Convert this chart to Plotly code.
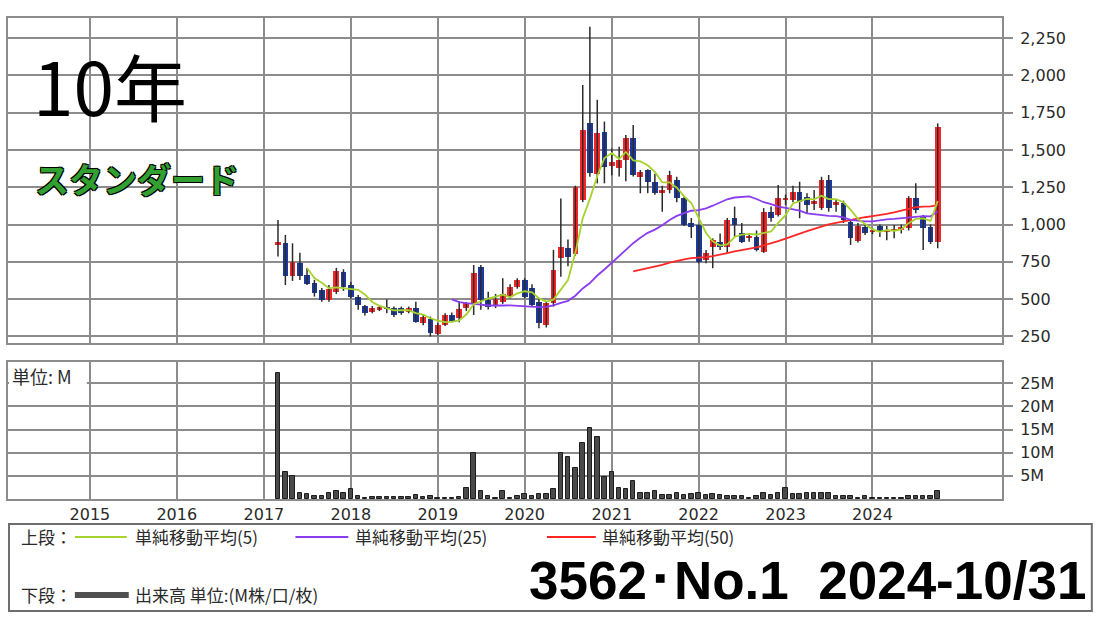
import subprocess
import pandas as pd
import plotly.graph_objects as go

# ---------------- data (monthly, Mar 2017 - Oct 2024) ----------------
months = pd.date_range("2017-03-01", "2024-10-01", freq="MS")

open_ = [865, 878, 655, 744, 662, 606, 562, 497, 550, 684,
         595, 517, 454, 416, 428, 440, 439, 439, 416, 439, 338, 365,
         267, 327, 394, 372, 439, 472, 718, 495, 454, 483, 517, 584,
         629, 573, 483, 327, 472, 774, 841, 800, 1165, 1678, 1340, 1622,
         1390, 1377, 1432, 1579, 1321, 1365, 1287, 1209, 1231, 1298, 1176, 1008,
         997, 763, 852, 885, 852, 1042, 941, 910, 919, 818, 1086, 1064,
         1165, 1165, 1220, 1187, 1140, 1109, 1298, 1131, 1142, 1019, 892, 986,
         955, 990, 950, 960, 965, 975, 1176, 1053, 986, 885]
high = [1030, 930, 874, 810, 709, 629, 575, 595, 709, 700,
        615, 528, 460, 454, 455, 500, 450, 450, 450, 483, 395, 383,
        340, 405, 410, 485, 480, 729, 729, 550, 535, 640, 600, 640,
        640, 600, 506, 483, 830, 1175, 900, 1260, 1935, 2326, 1836, 1690,
        1510, 1521, 1600, 1667, 1365, 1370, 1340, 1260, 1360, 1320, 1190, 1044,
        1000, 830, 907, 940, 1044, 1120, 1010, 935, 960, 1110, 1120, 1265,
        1200, 1260, 1287, 1210, 1231, 1320, 1332, 1170, 1160, 1030, 1010, 1000,
        975, 1000, 990, 997, 1000, 1190, 1276, 1064, 1000, 1678]
low = [785, 595, 622, 629, 595, 517, 483, 483, 535, 555,
       505, 428, 390, 405, 420, 405, 380, 395, 405, 342, 325, 249,
       257, 320, 350, 345, 420, 394, 428, 430, 440, 468, 505, 570,
       505, 450, 305, 310, 450, 650, 720, 790, 1150, 1320, 1276, 1276,
       1330, 1321, 1290, 1321, 1209, 1210, 1200, 1086, 1209, 1150, 990, 910,
       740, 740, 707, 830, 810, 919, 876, 885, 820, 810, 1019, 1053,
       1130, 1150, 1042, 1075, 1098, 1098, 1086, 1086, 1010, 863, 880, 930,
       935, 917, 895, 908, 940, 960, 1075, 830, 870, 841]
close = [880, 655, 751, 655, 602, 543, 495, 565, 691, 580,
         517, 461, 407, 439, 450, 435, 394, 410, 443, 349, 383, 275,
         327, 394, 356, 432, 474, 673, 495, 446, 499, 535, 584, 629,
         517, 461, 338, 472, 696, 852, 781, 1250, 1633, 1343, 1611, 1388,
         1420, 1432, 1579, 1332, 1354, 1287, 1209, 1231, 1332, 1176, 997, 986,
         751, 807, 896, 852, 1030, 997, 885, 923, 830, 1086, 1042, 1176,
         1180, 1220, 1153, 1131, 1160, 1298, 1109, 1153, 1030, 908, 990, 941,
         965, 955, 960, 970, 985, 1176, 1098, 975, 885, 1656]
volume_m = [27.3, 5.9, 5.0, 1.4, 1.1, 0.7, 0.7, 1.4, 1.7, 1.4,
            2.2, 0.6, 0.3, 0.5, 0.5, 0.5, 0.5, 0.5, 0.5, 0.9, 0.4, 0.6,
            0.2, 0.2, 0.2, 0.5, 2.4, 9.9, 1.7, 0.7, 0.3, 1.7, 0.3, 0.7,
            1.0, 0.7, 1.0, 1.0, 2.1, 9.9, 9.1, 6.8, 12.0, 15.4, 13.3, 4.7,
            5.8, 2.4, 2.1, 3.9, 1.4, 1.4, 1.7, 0.9, 0.9, 1.4, 0.9, 1.0,
            1.4, 0.9, 1.0, 0.9, 0.6, 0.6, 0.6, 0.3, 0.6, 1.4, 0.9, 1.4,
            2.4, 1.0, 1.0, 1.4, 1.4, 1.4, 1.4, 0.6, 0.6, 0.6, 0.3, 0.6,
            0.3, 0.3, 0.3, 0.3, 0.3, 0.6, 0.6, 0.6, 0.6, 1.7]

year_ticks = [f"{y}-01-01" for y in range(2015, 2025)]
year_labels = [str(y) for y in range(2015, 2025)]
price_ticks = [250, 500, 750, 1000, 1250, 1500, 1750, 2000, 2250]
vol_ticks = [5, 10, 15, 20, 25]
vol_labels = ["5M", "10M", "15M", "20M", "25M"]

assert len(open_) == len(high) == len(low) == len(close) == len(volume_m) == len(months)

# ---------------- pick a narrow bold font if one exists ----------------
try:
    fams = subprocess.run(["fc-list", ":", "family"], capture_output=True, text=True).stdout
except Exception:
    fams = ""
if "Liberation Sans Narrow" in fams:
    BIG_FAMILY, BIG_SIZE, GAP = "Liberation Sans Narrow", 62, "\u00a0\u00a0"
else:
    BIG_FAMILY, BIG_SIZE, GAP = "Liberation Sans", 53, "\u00a0\u00a0"

# ---------------- layout helpers ----------------
W, H = 1100, 618
ML, MR, MT, MB = 6, 98, 18, 119
PW = W - ML - MR
PH = H - MT - MB


def px(x):
    return (x - ML) / PW


def py(y):
    return (H - MB - y) / PH


closes = pd.Series(close, index=months)
sma5 = closes.rolling(5).mean()
sma25 = closes.rolling(25).mean()
sma50 = closes.rolling(50).mean()

GRID = "#8c8c8c"
TXT = "#2a2a2a"
RED = "#f52628"
BLUE = "#1c3a9e"
C5, C25, C50 = "#a6d22e", "#8a3cf0", "#ff2626"

fig = go.Figure()

# wicks
wx, wy = [], []
for d, h, l in zip(months, high, low):
    wx += [d, d, None]
    wy += [l, h, None]
fig.add_trace(go.Scatter(x=wx, y=wy, mode="lines", line=dict(color="#2b2b2b", width=1.5),
                         xaxis="x2", yaxis="y2", hoverinfo="skip", showlegend=False))

# bodies
base = [min(o, c) for o, c in zip(open_, close)]
body = [max(abs(c - o), 6) for o, c in zip(open_, close)]
cols = [RED if c >= o else BLUE for o, c in zip(open_, close)]
fig.add_trace(go.Bar(x=months, y=body, base=base, width=24 * 86400000,
                     marker=dict(color=cols, line=dict(width=0)),
                     xaxis="x2", yaxis="y2", showlegend=False))

# moving averages
for s, c in [(sma50, C50), (sma25, C25), (sma5, C5)]:
    fig.add_trace(go.Scatter(x=months, y=s, mode="lines", line=dict(color=c, width=1.8),
                             xaxis="x2", yaxis="y2", showlegend=False, connectgaps=False))

# volume
fig.add_trace(go.Bar(x=months, y=volume_m, width=19 * 86400000,
                     marker=dict(color="#4a4a4a", line=dict(color="#1c1c1c", width=1)),
                     xaxis="x", yaxis="y", showlegend=False))

axis_font = dict(family="DejaVu Sans", size=16, color=TXT)
common_x = dict(type="date", range=["2014-01-22", "2025-06-28"], tickvals=year_ticks,
                ticktext=year_labels, showgrid=True, gridcolor=GRID, gridwidth=2,
                showline=True, linecolor=GRID, linewidth=2, mirror=True, ticks="",
                zeroline=False)
common_y = dict(side="right", showgrid=True, gridcolor=GRID, gridwidth=2, showline=True,
                linecolor=GRID, linewidth=2, mirror=True, ticks="outside", ticklen=9,
                tickcolor=GRID, tickwidth=2, zeroline=False, tickfont=axis_font,
                ticklabelstandoff=4)

p_bot = py(343)
v_top = py(362)

fig.update_layout(
    width=W, height=H,
    margin=dict(l=ML, r=MR, t=MT, b=MB),
    paper_bgcolor="white", plot_bgcolor="white",
    barmode="overlay", bargap=0,
    xaxis=dict(domain=[0, 1], anchor="y", tickfont=axis_font, showticklabels=True, **common_x),
    xaxis2=dict(domain=[0, 1], anchor="y2", matches="x", showticklabels=False, **common_x),
    yaxis=dict(domain=[0, v_top], anchor="x", range=[0, 29.6], tickvals=vol_ticks,
               ticktext=vol_labels, **common_y),
    yaxis2=dict(domain=[p_bot, 1], anchor="x2", range=[206, 2384], tickvals=price_ticks,
                tickformat=",", **common_y),
)

shapes = []
ann = []

# big overlay texts
ann.append(dict(text="10年", x=px(29), y=py(84), xref="paper", yref="paper",
                xanchor="left", yanchor="middle", showarrow=False,
                font=dict(family="Noto Sans CJK JP", size=73, color="#000", weight="normal")))
ann.append(dict(text="スタンダード", x=px(31), y=py(179), xref="paper", yref="paper",
                xanchor="left", yanchor="middle", showarrow=False,
                font=dict(family="Noto Sans CJK JP", size=34, color="#31a031", weight="bold",
                          shadow="1px 1px 0 #000, -1px -1px 0 #000, 1px -1px 0 #000, -1px 1px 0 #000")))

# volume unit label with white backing
shapes.append(dict(type="rect", xref="paper", yref="paper", x0=px(7), x1=px(85),
                   y0=py(385), y1=py(363), fillcolor="white", line=dict(width=0), layer="above"))
ann.append(dict(text="単位: M", x=px(8), y=py(376), xref="paper", yref="paper",
                xanchor="left", yanchor="middle", showarrow=False,
                font=dict(family="Noto Sans CJK JP", size=18, color=TXT)))

# legend box
shapes.append(dict(type="rect", xref="paper", yref="paper", x0=px(7), x1=px(1092),
                   y0=py(611), y1=py(524), line=dict(color="#6e6e6e", width=2)))
lf = dict(family="Noto Sans CJK JP", size=17, color=TXT)
ann.append(dict(text="上段：", x=px(17), y=py(536), xref="paper", yref="paper",
                xanchor="left", yanchor="middle", showarrow=False, font=lf))
ann.append(dict(text="下段：", x=px(17), y=py(594), xref="paper", yref="paper",
                xanchor="left", yanchor="middle", showarrow=False, font=lf))
for (x0, x1, tx, label, c) in [(73, 125, 131, "単純移動平均(5)", C5),
                                (294, 347, 352, "単純移動平均(25)", C25),
                                (546, 595, 599, "単純移動平均(50)", C50)]:
    shapes.append(dict(type="line", xref="paper", yref="paper", x0=px(x0), x1=px(x1),
                       y0=py(537), y1=py(537), line=dict(color=c, width=2)))
    ann.append(dict(text=label, x=px(tx), y=py(536), xref="paper", yref="paper",
                    xanchor="left", yanchor="middle", showarrow=False, font=lf))
shapes.append(dict(type="line", xref="paper", yref="paper", x0=px(73), x1=px(127),
                   y0=py(595), y1=py(595), line=dict(color="#505050", width=6)))
ann.append(dict(text="出来高 単位:(M株/口/枚)", x=px(131), y=py(594), xref="paper", yref="paper",
                xanchor="left", yanchor="middle", showarrow=False, font=lf))
ann.append(dict(text="3562･No.1" + GAP + "2024-10/31", x=px(1088), y=py(580),
                xref="paper", yref="paper", xanchor="right", yanchor="middle", showarrow=False,
                font=dict(family=BIG_FAMILY, size=BIG_SIZE, color="#000", weight="bold")))

fig.update_layout(shapes=shapes, annotations=ann)
fig.write_html("out.html", config={"displayModeBar": False},
               post_script="document.body.style.margin='0px';")
